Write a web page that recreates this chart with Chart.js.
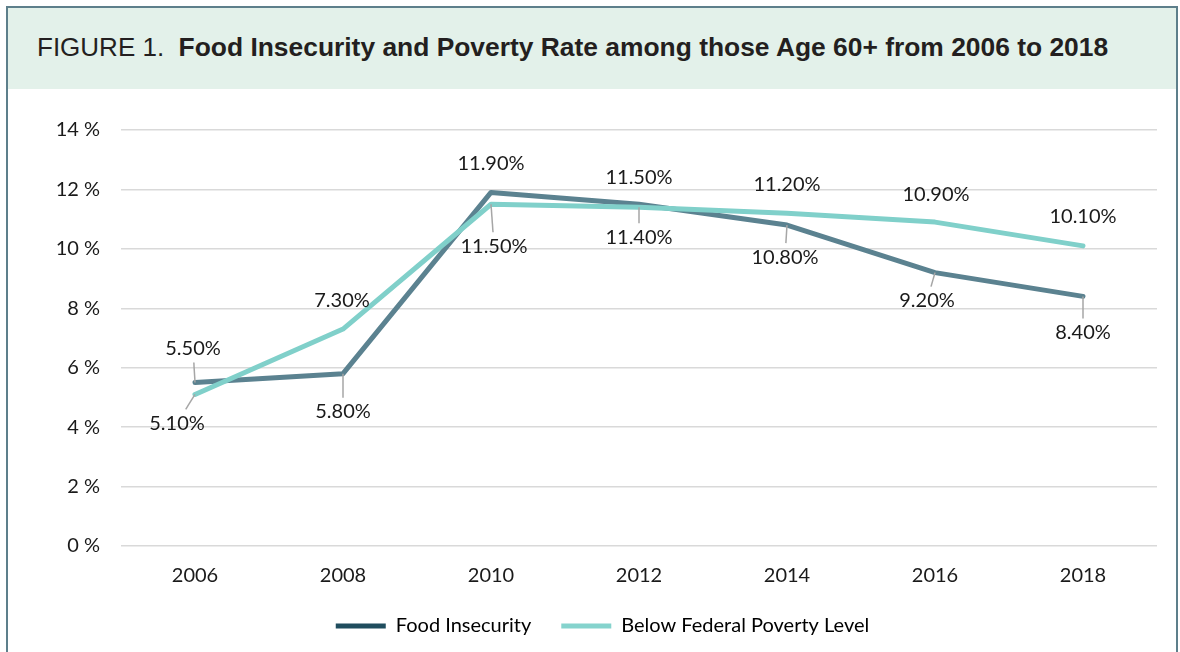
<!DOCTYPE html>
<html>
<head>
<meta charset="utf-8">
<script src="https://cdn.jsdelivr.net/npm/chart.js@4"></script>
<style>
  html, body { margin: 0; padding: 0; background: #fff; width: 1180px; height: 652px; overflow: hidden; }
  #frame { position: absolute; left: 6px; top: 6px; width: 1168px; height: 700px; border: 2px solid #5d7f8b; border-bottom: none; }
  #head { position: absolute; left: 0; top: 0; width: 1168px; height: 81px; background: #e3f1ea; }
  #title { position: absolute; left: 29px; top: 24px; font-family: "Liberation Sans", Arial, sans-serif; font-size: 26px; color: #231f20; white-space: pre; line-height: 30px; }
  #title b { font-weight: bold; font-size: 26.4px; }
  #wrap { position: absolute; left: 0; top: 82px; width: 1168px; height: 562px; }
</style>
</head>
<body>
<div id="frame">
  <div id="head"><div id="title">FIGURE 1.  <b>Food Insecurity and Poverty Rate among those Age 60+ from 2006 to 2018</b></div></div>
  <div id="wrap"><canvas id="c" width="1168" height="562"></canvas></div>
</div>
<script>
const years = ["2006", "2008", "2010", "2012", "2014", "2016", "2018"];
const foodInsecurity = [5.5, 5.8, 11.9, 11.5, 10.8, 9.2, 8.4];
const belowPoverty = [5.1, 7.3, 11.5, 11.4, 11.2, 10.9, 10.1];
const seriesNames = ["Food Insecurity", "Below Federal Poverty Level"];
const yTicks = [0, 2, 4, 6, 8, 10, 12, 14];

// label placement (offset from point: dx, dy, leader line)
const foodLabelPos = [[-2,-34,true],[0,38,true],[0,-29,false],[0,-27,false],[-2,32,true],[-8,28,true],[0,36,true]];
const povLabelPos  = [[-18,29,true],[-1,-29,false],[3,42,true],[0,30,true],[0,-29,false],[1,-28,false],[0,-29,false]];

const FONT = "Lato, 'Open Sans', sans-serif";

const labelPlugin = {
  id: 'pointLabels',
  afterDatasetsDraw(chart) {
    const ctx = chart.ctx;
    ctx.save();
    chart.data.datasets.forEach((ds, i) => {
      const meta = chart.getDatasetMeta(i);
      const pos = ds.labelPos;
      meta.data.forEach((pt, j) => {
        const [dx, dy, leader] = pos[j];
        const lx = pt.x + dx, ly = pt.y + dy;
        if (leader) {
          const dist = Math.abs(dy) - 14;
          const f = dist / Math.abs(dy);
          ctx.beginPath();
          ctx.strokeStyle = '#a6a6a6';
          ctx.lineWidth = 1.5;
          ctx.moveTo(pt.x, pt.y);
          ctx.lineTo(pt.x + dx * f, pt.y + dy * f);
          ctx.stroke();
        }
        ctx.fillStyle = '#1a1a1a';
        ctx.font = '20px ' + FONT;
        ctx.textAlign = 'center';
        ctx.textBaseline = 'middle';
        ctx.fillText(ds.data[j].toFixed(2) + '%', lx, ly);
      });
    });
    ctx.restore();
  }
};

const legendColors = ['#1f4d5e', '#85d3cd'];

new Chart(document.getElementById('c'), {
  type: 'line',
  data: {
    labels: years,
    datasets: [
      { label: seriesNames[0], data: foodInsecurity, borderColor: '#5b8290', backgroundColor: '#5b8290', borderWidth: 5, pointRadius: 0, tension: 0, borderCapStyle: 'round', borderJoinStyle: 'round', order: 2, labelPos: foodLabelPos },
      { label: seriesNames[1], data: belowPoverty, borderColor: '#80d0ca', backgroundColor: '#80d0ca', borderWidth: 5, pointRadius: 0, tension: 0, borderCapStyle: 'round', borderJoinStyle: 'round', order: 1, labelPos: povLabelPos }
    ]
  },
  options: {
    responsive: false,
    animation: false,
    layout: { padding: { top: 40, right: 19, bottom: 6, left: 40 } },
    scales: {
      x: {
        offset: true,
        grid: { display: false, drawTicks: false },
        border: { display: false },
        ticks: { color: '#1a1a1a', font: { family: FONT, size: 20 }, padding: 18 }
      },
      y: {
        min: 0, max: 14,
        afterBuildTicks(scale) { scale.ticks = yTicks.map(v => ({ value: v })); },
        afterFit(scale) { scale.width = 73; },
        grid: { color: '#d9d9d9', lineWidth: 1.5, drawTicks: false },
        border: { display: false },
        ticks: { color: '#1a1a1a', font: { family: FONT, size: 20 }, padding: 21, callback: v => v + ' %' }
      }
    },
    plugins: {
      tooltip: { enabled: false },
      legend: {
        position: 'bottom',
        labels: {
          color: '#1a1a1a',
          font: { family: FONT, size: 20 },
          boxWidth: 50, boxHeight: 5, padding: 10,
          generateLabels(chart) {
            return chart.data.datasets.map((ds, i) => ({
              text: i === 0 ? ds.label + '\u00a0\u00a0\u00a0\u00a0' : ds.label,
              fillStyle: legendColors[i], strokeStyle: legendColors[i], lineWidth: 0, datasetIndex: i, hidden: false
            }));
          }
        }
      }
    }
  },
  plugins: [labelPlugin]
});
</script>
</body>
</html>
